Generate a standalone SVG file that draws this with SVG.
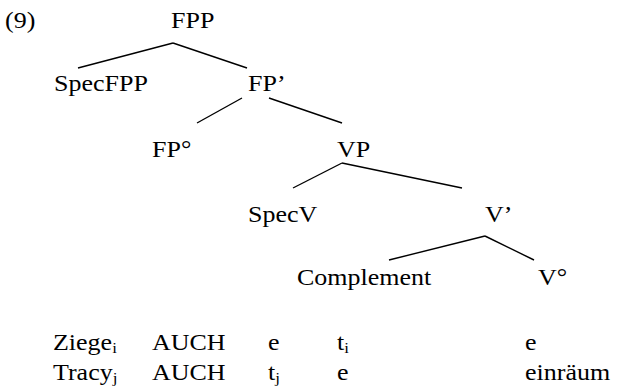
<svg xmlns="http://www.w3.org/2000/svg" width="625" height="387" viewBox="0 0 625 387">
<style>
text{font-family:"Liberation Serif","Times New Roman",serif;font-size:23px;fill:#000}
.sub{font-size:15px}
line{stroke:#000;stroke-width:1.4}
</style>
<rect width="625" height="387" fill="#fff"/>
<text transform="translate(5,28) scale(1.13,1)">(9)</text>
<g id="connectors">
<line x1="173" y1="43" x2="78" y2="68"/>
<line x1="173" y1="43" x2="247" y2="68"/>
<line x1="242" y1="98" x2="197" y2="123"/>
<line x1="269" y1="98" x2="342" y2="123"/>
<line x1="342" y1="163" x2="293" y2="188"/>
<line x1="342" y1="163" x2="462" y2="188"/>
<line x1="485" y1="236" x2="389" y2="260"/>
<line x1="485" y1="236" x2="534" y2="260"/>
</g>
<g id="n-FPP"><text transform="translate(171,28) scale(1.13,1)">FPP</text></g>
<g id="n-SpecFPP"><text transform="translate(54,91) scale(1.13,1)">SpecFPP</text></g>
<g id="n-FPbar"><text transform="translate(248,91) scale(1.13,1)">FP’</text></g>
<g id="n-FP0"><text transform="translate(152,157) scale(1.13,1)">FP°</text></g>
<g id="n-VP"><text transform="translate(337,157) scale(1.13,1)">VP</text></g>
<g id="n-SpecV"><text transform="translate(248,222) scale(1.13,1)">SpecV</text></g>
<g id="n-Vbar"><text transform="translate(485,222) scale(1.13,1)">V’</text></g>
<g id="n-Complement"><text transform="translate(297,285) scale(1.13,1)">Complement</text></g>
<g id="n-V0"><text transform="translate(538,285) scale(1.13,1)">V°</text></g>
<g id="rows">
<text transform="translate(53,350) scale(1.13,1)">Ziege<tspan class="sub" dy="3">i</tspan></text>
<text transform="translate(152,350) scale(1.13,1)">AUCH</text>
<text transform="translate(268,350) scale(1.13,1)">e</text>
<text transform="translate(337,350) scale(1.13,1)">t<tspan class="sub" dy="3">i</tspan></text>
<text transform="translate(525,350) scale(1.13,1)">e</text>
<text transform="translate(53,380) scale(1.13,1)">Tracy<tspan class="sub" dy="3">j</tspan></text>
<text transform="translate(152,380) scale(1.13,1)">AUCH</text>
<text transform="translate(268,380) scale(1.13,1)">t<tspan class="sub" dy="3">j</tspan></text>
<text transform="translate(337,380) scale(1.13,1)">e</text>
<text transform="translate(525,380) scale(1.13,1)">einräum</text>
</g>
</svg>
